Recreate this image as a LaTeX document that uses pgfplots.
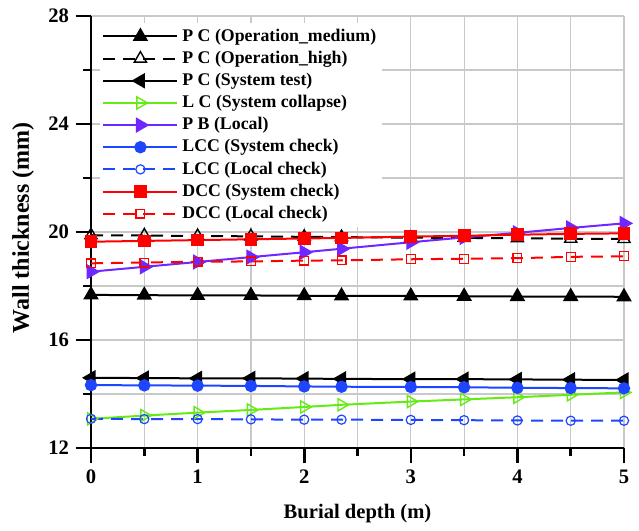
\documentclass[border=0pt]{standalone}
\usepackage{fontspec}
\setmainfont{Liberation Serif}
\usepackage{pgfplots}
\pgfplotsset{compat=1.18}
\definecolor{lgreen}{RGB}{100,235,20}
\definecolor{violet}{RGB}{110,40,255}
\definecolor{lblue}{RGB}{30,70,255}
\definecolor{lred}{RGB}{255,0,0}

\begin{document}
\begin{tikzpicture}
\begin{axis}[
    name=ax,
    scale only axis,
    width=266.5pt,height=216pt,
    xmin=0,xmax=5,ymin=12,ymax=28,
    xtick={0,1,2,3,4,5},
    ytick={12,16,20,24,28},
    minor x tick num=1,
    minor y tick num=1,
    grid=both,
    major grid style={draw=gray!42,line width=0.6pt},
    minor grid style={draw=gray!42,line width=0.6pt},
    axis lines=left,
    axis line style={-,line width=1.3pt,black},
    tick style={line width=1.3pt,black},
    tick align=outside,
    major tick length=7.5pt,
    minor tick length=4pt,
    /pgf/number format/assume math mode=true,
    tick label style={font=\fontsize{10.3}{12}\selectfont\bfseries},
    xlabel={Burial depth (m)},
    ylabel={Wall thickness (mm)},
    xlabel style={font=\fontsize{10.3}{12}\selectfont\bfseries,
      at={(axis description cs:0.5,0)},anchor=center,yshift=-33pt},
    ylabel style={font=\fontsize{12}{14}\selectfont\bfseries,
      at={(axis description cs:0,0.51)},anchor=center,yshift=34pt},
    legend cell align=left,
    legend style={draw=none,fill=white,at={(axis description cs:0,1)},anchor=north west,
      xshift=4.5pt,yshift=-3.2pt,
      font=\fontsize{8.9}{10}\selectfont\bfseries,row sep=-0.6pt,inner sep=1pt,
      /tikz/every even column/.append style={column sep=3pt}},
    legend image code/.code={
      \draw[mark repeat=2,mark phase=2] plot coordinates {(0pt,0pt) (18.5pt,0pt) (37pt,0pt)};},
    every axis plot/.append style={line width=1pt},
]
\addplot[black,solid,mark=triangle*,mark size=3.5pt] coordinates
  {(0,17.67)(0.5,17.66)(1,17.65)(1.5,17.65)(2,17.64)(2.35,17.63)(3,17.63)(3.5,17.62)(4,17.61)(4.5,17.61)(5,17.60)};
\addlegendentry{P C (Operation\_medium)}
\addplot[black,dashed,dash pattern=on 6pt off 4pt,mark=triangle,mark size=3.5pt,mark options={solid,line width=0.7pt}] coordinates
  {(0,19.88)(0.5,19.87)(1,19.85)(1.5,19.84)(2,19.82)(2.35,19.81)(3,19.79)(3.5,19.78)(4,19.77)(4.5,19.75)(5,19.74)};
\addlegendentry{P C (Operation\_high)}
\addplot[black,solid,mark=triangle*,mark size=3.5pt,mark options={rotate=90}] coordinates
  {(0,14.60)(0.5,14.59)(1,14.58)(1.5,14.58)(2,14.57)(2.35,14.56)(3,14.55)(3.5,14.55)(4,14.54)(4.5,14.53)(5,14.52)};
\addlegendentry{P C (System test)}
\addplot[lgreen,solid,mark=triangle,mark size=3.5pt,mark options={rotate=-90,line width=0.7pt}] coordinates
  {(0,13.08)(0.5,13.20)(1,13.31)(1.5,13.41)(2,13.52)(2.35,13.60)(3,13.72)(3.5,13.80)(4,13.88)(4.5,13.97)(5,14.06)};
\addlegendentry{L C (System collapse)}
\addplot[violet,solid,mark=triangle*,mark size=3.5pt,mark options={rotate=-90}] coordinates
  {(0,18.53)(0.5,18.71)(1,18.89)(1.5,19.07)(2,19.25)(2.35,19.38)(3,19.62)(3.5,19.80)(4,19.97)(4.5,20.15)(5,20.32)};
\addlegendentry{P B (Local)}
\addplot[lblue,solid,mark=*,mark size=2.6pt] coordinates
  {(0,14.33)(0.5,14.32)(1,14.31)(1.5,14.30)(2,14.28)(2.35,14.27)(3,14.26)(3.5,14.25)(4,14.23)(4.5,14.22)(5,14.21)};
\addlegendentry{LCC (System check)}
\addplot[lblue,dashed,dash pattern=on 6pt off 4pt,mark=o,mark size=2.3pt,mark options={solid,line width=0.6pt}] coordinates
  {(0,13.08)(0.5,13.07)(1,13.07)(1.5,13.06)(2,13.05)(2.35,13.05)(3,13.04)(3.5,13.03)(4,13.02)(4.5,13.01)(5,13.01)};
\addlegendentry{LCC (Local check)}
\addplot[lred,solid,mark=square*,mark size=2.7pt] coordinates
  {(0,19.64)(0.5,19.67)(1,19.70)(1.5,19.73)(2,19.76)(2.35,19.78)(3,19.83)(3.5,19.86)(4,19.90)(4.5,19.93)(5,19.95)};
\addlegendentry{DCC (System check)}
\addplot[lred,dashed,dash pattern=on 6pt off 4pt,mark=square,mark size=2.2pt,mark options={solid,line width=0.6pt}] coordinates
  {(0,18.84)(0.5,18.87)(1,18.90)(1.5,18.91)(2,18.94)(2.35,18.95)(3,18.99)(3.5,19.01)(4,19.03)(4.5,19.08)(5,19.10)};
\addlegendentry{DCC (Local check)}
\end{axis}
\path ([shift={(-45.5pt,-39pt)}]ax.south west) rectangle ([shift={(7.5pt,8pt)}]ax.north east);
\end{tikzpicture}
\end{document}
